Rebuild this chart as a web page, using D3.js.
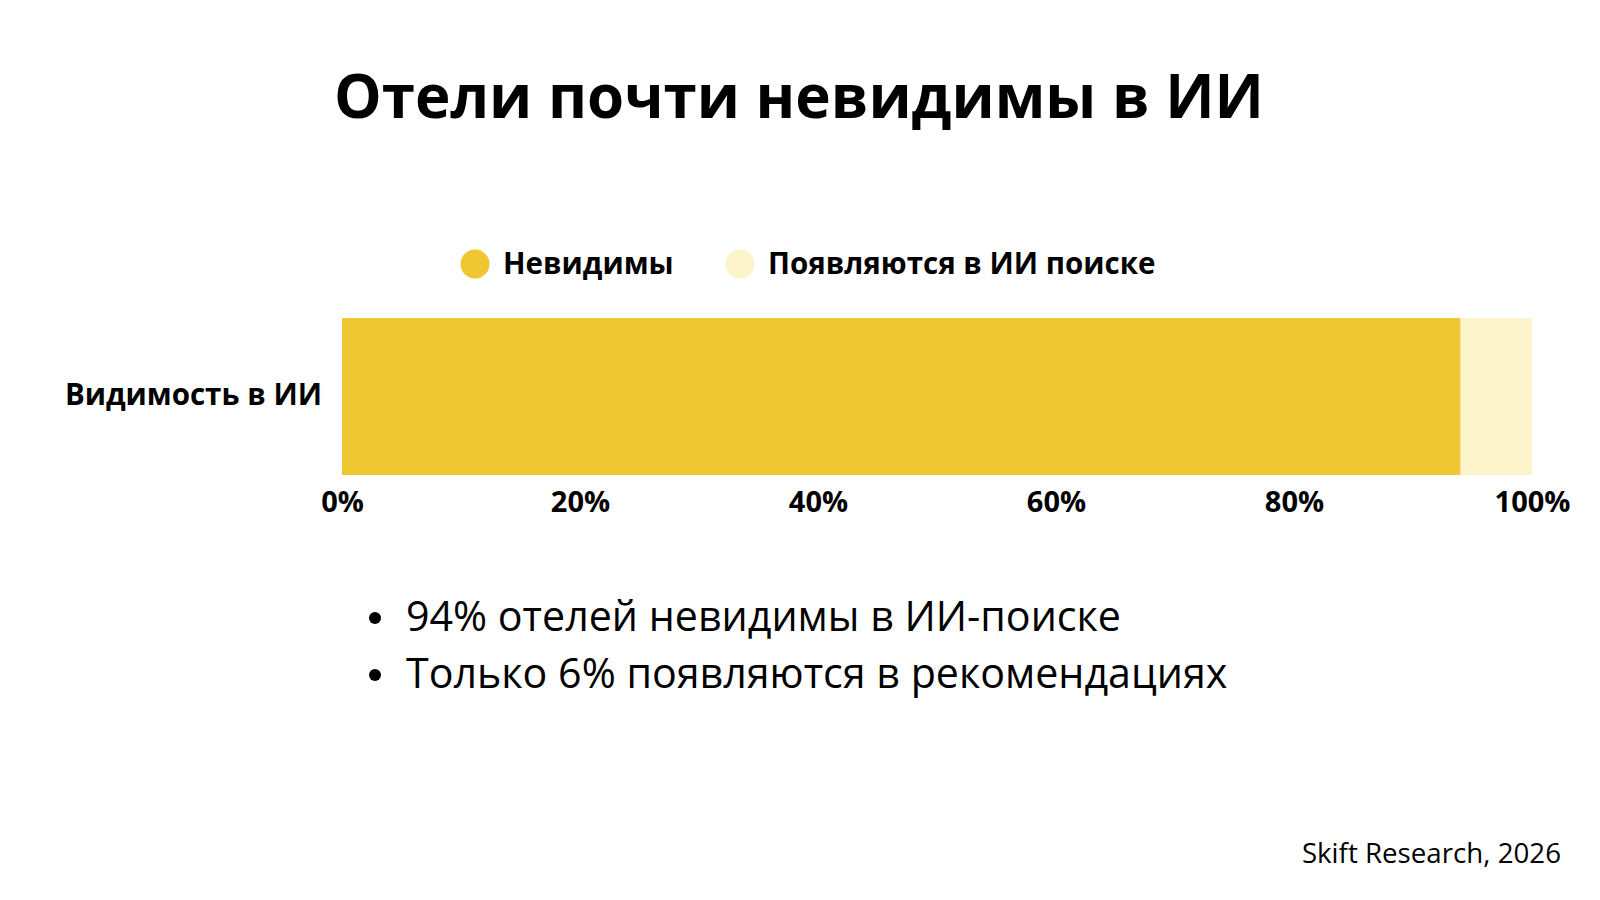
<!DOCTYPE html>
<html>
<head>
<meta charset="utf-8">
<script src="https://cdn.jsdelivr.net/npm/d3@7"></script>
<style>
  body { margin: 0; background: #fff; }
  svg { display: block; font-family: "Open Sans", sans-serif; }
</style>
</head>
<body>
<div id="chart"></div>
<script>
// data
const categories = ["Видимость в ИИ"];
const seriesNames = ["Невидимы", "Появляются в ИИ поиске"];
const invisible = [94];
const visible = [6];
const tickValues = [0, 20, 40, 60, 80, 100];
const bullets = [
  "94% отелей невидимы в ИИ-поиске",
  "Только 6% появляются в рекомендациях"
];
const colours = ["#EEC733", "#FDF4CC"];

const width = 1600;
const height = 900;

const svg = d3.select("#chart")
  .append("svg")
  .attr("width", width)
  .attr("height", height);

// title
svg.append("text")
  .attr("x", 799)
  .attr("y", 118)
  .attr("text-anchor", "middle")
  .attr("font-size", "60px")
  .attr("font-weight", "bold")
  .attr("fill", "#000")
  .text("Отели почти невидимы в ИИ");

// scales
const x = d3.scaleLinear().domain([0, 100]).range([342, 1532]);
const y = d3.scaleBand().domain(categories).range([318, 475]).padding(0);

// stacked data
const rows = categories.map((c, i) => ({ cat: c, a: invisible[i], b: visible[i] }));
const stack = d3.stack().keys(["a", "b"])(rows);

svg.selectAll("g.layer")
  .data(stack)
  .enter()
  .append("g")
  .attr("class", "layer")
  .attr("fill", (d, i) => colours[i])
  .selectAll("rect")
  .data((d) => d)
  .enter()
  .append("rect")
  .attr("x", (d) => x(d[0]))
  .attr("y", (d) => y(d.data.cat))
  .attr("width", (d) => x(d[1]) - x(d[0]))
  .attr("height", y.bandwidth());

// x axis
const xAxis = svg.append("g")
  .attr("transform", "translate(0, 488)")
  .call(d3.axisBottom(x).tickValues(tickValues).tickFormat((d) => d + "%").tickSize(0));
xAxis.select(".domain").remove();
xAxis.selectAll("text")
  .attr("font-family", "Open Sans")
  .attr("font-size", "29px")
  .attr("font-weight", "bold")
  .attr("fill", "#000")
  .attr("dy", "0.71em");

// y label
svg.selectAll("text.ylab")
  .data(categories)
  .enter()
  .append("text")
  .attr("class", "ylab")
  .attr("x", 322)
  .attr("y", (d) => y(d) + y.bandwidth() / 2 - 2)
  .attr("dy", "0.35em")
  .attr("text-anchor", "end")
  .attr("font-size", "29.5px")
  .attr("font-weight", "bold")
  .text((d) => d);

// legend
const legendX = [475, 740];
const legend = svg.selectAll("g.legend")
  .data(seriesNames)
  .enter()
  .append("g")
  .attr("class", "legend")
  .attr("transform", (d, i) => `translate(${legendX[i]}, 264)`);
legend.append("circle")
  .attr("r", 14.5)
  .attr("fill", (d, i) => colours[i]);
legend.append("text")
  .attr("x", 28)
  .attr("dy", "0.35em")
  .attr("font-size", "29.5px")
  .attr("font-weight", "bold")
  .text((d) => d);

// bullets
const bl = svg.selectAll("g.bullet")
  .data(bullets)
  .enter()
  .append("g")
  .attr("class", "bullet")
  .attr("transform", (d, i) => `translate(0, ${631 + i * 57})`);
bl.append("circle")
  .attr("cx", 375)
  .attr("cy", -13)
  .attr("r", 6)
  .attr("fill", "#000");
bl.append("text")
  .attr("x", 406)
  .attr("font-size", "41.2px")
  .attr("fill", "#000")
  .text((d) => d);

// source
svg.append("text")
  .attr("x", 1561)
  .attr("y", 863)
  .attr("text-anchor", "end")
  .attr("font-size", "27.7px")
  .attr("fill", "#000")
  .text("Skift Research, 2026");
</script>
</body>
</html>
